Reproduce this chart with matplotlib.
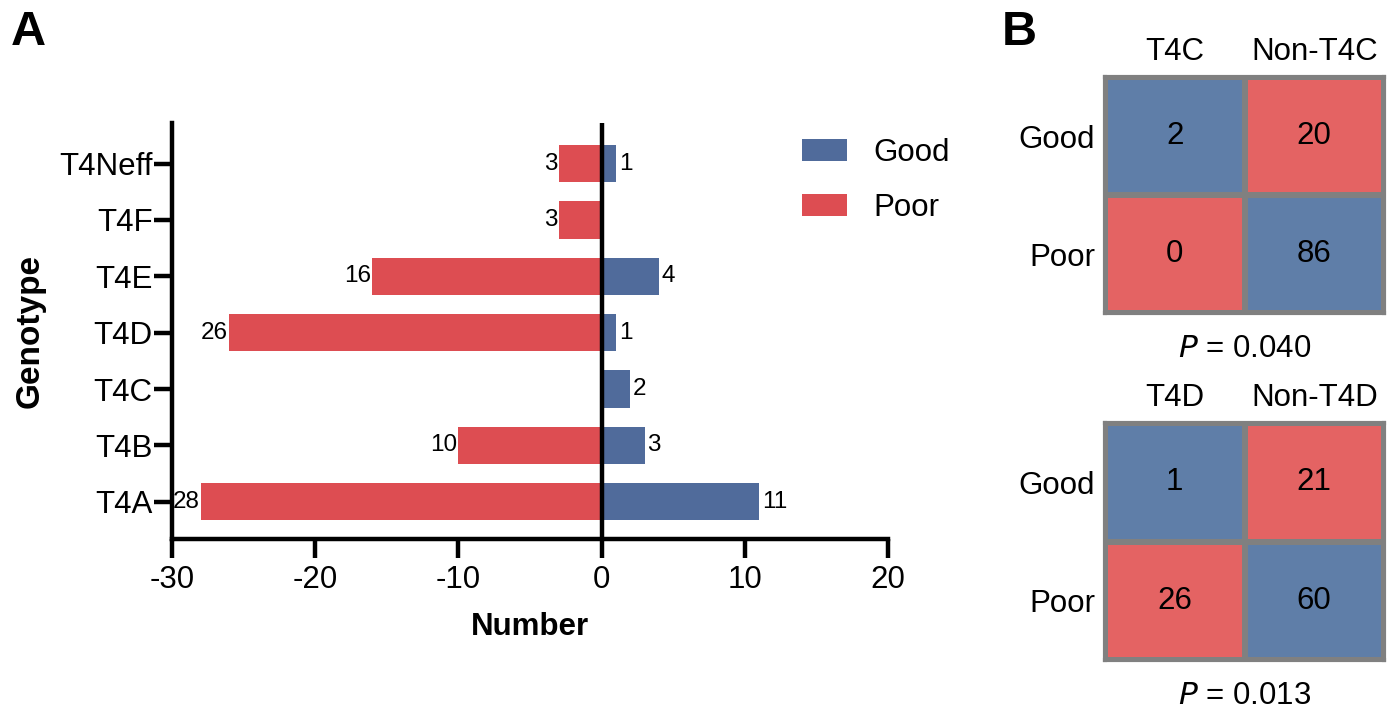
import matplotlib
matplotlib.use("Agg")
import numpy as np
import matplotlib.pyplot as plt
from matplotlib.colors import ListedColormap

plt.rcParams['font.family'] = ['Liberation Sans', 'DejaVu Sans']
plt.rcParams['axes.unicode_minus'] = False

# Panel A data (bottom to top)
genotypes = ["T4A", "T4B", "T4C", "T4D", "T4E", "T4F", "T4Neff"]
good = [11, 3, 2, 1, 4, 0, 1]
poor = [28, 10, 0, 26, 16, 3, 3]

# Panel B contingency tables
rows_b = ["Good", "Poor"]
cols_t4c = ["T4C", "Non-T4C"]
table_t4c = [[2, 20], [0, 86]]
p_t4c = "0.040"
cols_t4d = ["T4D", "Non-T4D"]
table_t4d = [[1, 21], [26, 60]]
p_t4d = "0.013"

bar_blue = "#506b9b"
bar_red = "#dd4d52"
cell_blue = "#5f7ea8"
cell_red = "#e46363"
FS = 22.5

W, H = 1400, 711
fig = plt.figure(figsize=(14, 7.11), dpi=100)


def px_axes(left, top, right, bottom):
    return fig.add_axes([left / W, 1 - bottom / H, (right - left) / W, (bottom - top) / H])


# ---- A: diverging bars ----
ax = px_axes(172, 123, 888, 539)
y = np.arange(len(genotypes))
ax.barh(y, good, height=0.66, color=bar_blue, edgecolor="none", label="Good")
ax.barh(y, [-v for v in poor], height=0.66, color=bar_red, edgecolor="none", label="Poor")
ax.axvline(0, color="black", lw=3.2, zorder=3)

for yi, g, p in zip(y, good, poor):
    if g:
        ax.text(g + 0.2, yi, str(g), va="center", ha="left", fontsize=17.5)
    if p:
        ax.text(-p - 0.08, yi, str(p), va="center", ha="right", fontsize=17.5)

ax.set_xlim(-30, 20)
ax.set_ylim(-0.66, 6.72)
ax.set_xticks([-30, -20, -10, 0, 10, 20])
ax.set_yticks(y)
ax.set_yticklabels(genotypes)
ax.tick_params(axis="both", labelsize=FS, width=3.2)
ax.tick_params(axis="y", length=13, pad=1)
ax.tick_params(axis="x", length=14, pad=5)
for s in ["top", "right"]:
    ax.spines[s].set_visible(False)
for s in ["left", "bottom"]:
    ax.spines[s].set_linewidth(3.2)
ax.set_xlabel("Number", fontsize=FS, fontweight="bold", labelpad=12)
ax.set_ylabel("Genotype", fontsize=24, fontweight="bold", labelpad=10)

ax.legend(loc="upper left", bbox_to_anchor=(0.88, 0.964), frameon=False, fontsize=FS,
          borderpad=0, borderaxespad=0, handlelength=1.44, handleheight=0.69,
          labelspacing=0.8, handletextpad=0.85)

fig.text(11 / W, 1 - 45 / H, "A", fontsize=35, fontweight="bold")
fig.text(1002 / W, 1 - 45 / H, "B", fontsize=35, fontweight="bold")

# ---- B: 2x2 tables ----
cmap = ListedColormap([cell_blue, cell_red])
pattern = np.array([[0, 1], [1, 0]])


def draw_table(top, bottom, cols, table, pval):
    a = px_axes(1105, top, 1384, bottom)
    a.pcolormesh(pattern, cmap=cmap, edgecolors="#808080", linewidth=3)
    a.set_xlim(0, 2)
    a.set_ylim(2, 0)
    for i in range(2):
        for j in range(2):
            a.text(j + 0.5, i + 0.5, str(table[i][j]), ha="center", va="center", fontsize=FS)
    a.set_xticks([0.5, 1.5])
    a.set_xticklabels(cols, fontsize=FS)
    a.xaxis.tick_top()
    a.set_yticks([0.5, 1.5])
    a.set_yticklabels(rows_b, fontsize=FS)
    a.tick_params(length=0, pad=7)
    for s in a.spines.values():
        s.set_color("#808080")
        s.set_linewidth(3)
    a.text(0.5, -0.09, "$\\it{P}$ = " + pval, transform=a.transAxes,
           ha="center", va="top", fontsize=FS)


draw_table(77, 313, cols_t4c, table_t4c, p_t4c)
draw_table(423, 660, cols_t4d, table_t4d, p_t4d)

fig.savefig("out.png", dpi=100)
